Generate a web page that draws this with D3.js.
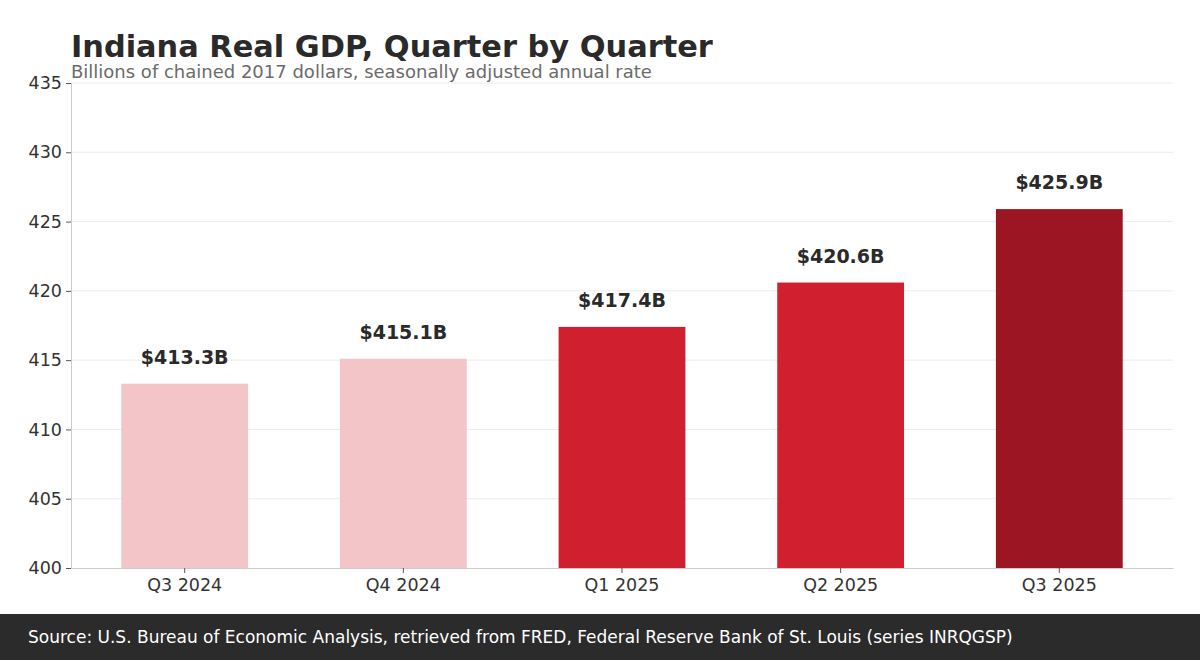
<!DOCTYPE html>
<html>
<head>
<meta charset="utf-8">
<script src="https://cdn.jsdelivr.net/npm/d3@7"></script>
<style>
  body { margin: 0; background: #fff; }
  svg { display: block; font-family: "DejaVu Sans", sans-serif; }
</style>
</head>
<body>
<svg id="chart" width="1200" height="660"></svg>
<script>
// Chart data
const quarters = ["Q3 2024", "Q4 2024", "Q1 2025", "Q2 2025", "Q3 2025"];
const gdpValues = [413.3, 415.1, 417.4, 420.6, 425.9];
const barColors = ["#f3c5c8", "#f3c5c8", "#d01f2f", "#d01f2f", "#9b1622"];
const yTicks = [400, 405, 410, 415, 420, 425, 430, 435];

const margin = { top: 83, right: 27, bottom: 92, left: 71 };
const width = 1200;
const height = 660;

const svg = d3.select("#chart");

const x = d3
  .scaleBand()
  .domain(quarters)
  .range([margin.left, width - margin.right])
  .paddingInner(0.42)
  .paddingOuter(0.23);

const y = d3
  .scaleLinear()
  .domain([400, 435])
  .range([height - margin.bottom, margin.top]);

// gridlines
svg
  .append("g")
  .selectAll("line")
  .data(yTicks.slice(1))
  .join("line")
  .attr("x1", margin.left)
  .attr("x2", width - margin.right)
  .attr("y1", (d) => y(d))
  .attr("y2", (d) => y(d))
  .attr("stroke", "#ececec")
  .attr("stroke-width", 1);

// bars
svg
  .append("g")
  .selectAll("rect")
  .data(gdpValues)
  .join("rect")
  .attr("x", (d, i) => x(quarters[i]))
  .attr("width", x.bandwidth())
  .attr("y", (d) => y(d))
  .attr("height", (d) => y(400) - y(d))
  .attr("fill", (d, i) => barColors[i]);

// value labels
svg
  .append("g")
  .selectAll("text")
  .data(gdpValues)
  .join("text")
  .attr("x", (d, i) => x(quarters[i]) + x.bandwidth() / 2)
  .attr("y", (d) => y(d) - 20)
  .attr("text-anchor", "middle")
  .attr("font-size", 19)
  .attr("font-weight", "bold")
  .attr("fill", "#2a2a2a")
  .text((d) => `$${d.toFixed(1)}B`);

// y axis
const yAxis = svg
  .append("g")
  .attr("transform", `translate(${margin.left},0)`)
  .call(d3.axisLeft(y).tickValues(yTicks).tickSize(5).tickPadding(4));
yAxis.select(".domain").attr("stroke", "#cccccc");
yAxis.selectAll(".tick line").attr("stroke", "#555");
yAxis
  .selectAll(".tick text")
  .attr("font-size", 17.5)
  .attr("font-family", "DejaVu Sans, sans-serif")
  .attr("fill", "#333");

// x axis
const xAxis = svg
  .append("g")
  .attr("transform", `translate(0,${height - margin.bottom})`)
  .call(d3.axisBottom(x).tickSize(5).tickPadding(6).tickSizeOuter(0));
xAxis.select(".domain").attr("stroke", "#cccccc");
xAxis.selectAll(".tick line").attr("stroke", "#555");
xAxis
  .selectAll(".tick text")
  .attr("font-size", 17.5)
  .attr("font-family", "DejaVu Sans, sans-serif")
  .attr("fill", "#333");

// title + subtitle
svg
  .append("text")
  .attr("x", margin.left)
  .attr("y", 57)
  .attr("font-size", 30.4)
  .attr("font-weight", "bold")
  .attr("fill", "#2a2a2a")
  .text("Indiana Real GDP, Quarter by Quarter");

svg
  .append("text")
  .attr("x", margin.left)
  .attr("y", 78)
  .attr("font-size", 18)
  .attr("fill", "#6b6b6b")
  .text("Billions of chained 2017 dollars, seasonally adjusted annual rate");

// footer band
svg
  .append("rect")
  .attr("x", 0)
  .attr("y", 614)
  .attr("width", width)
  .attr("height", 46)
  .attr("fill", "#2b2b2b");

svg
  .append("text")
  .attr("x", 28)
  .attr("y", 643)
  .attr("font-size", 17)
  .attr("fill", "#ffffff")
  .text(
    "Source: U.S. Bureau of Economic Analysis, retrieved from FRED, Federal Reserve Bank of St. Louis (series INRQGSP)"
  );
</script>
</body>
</html>
